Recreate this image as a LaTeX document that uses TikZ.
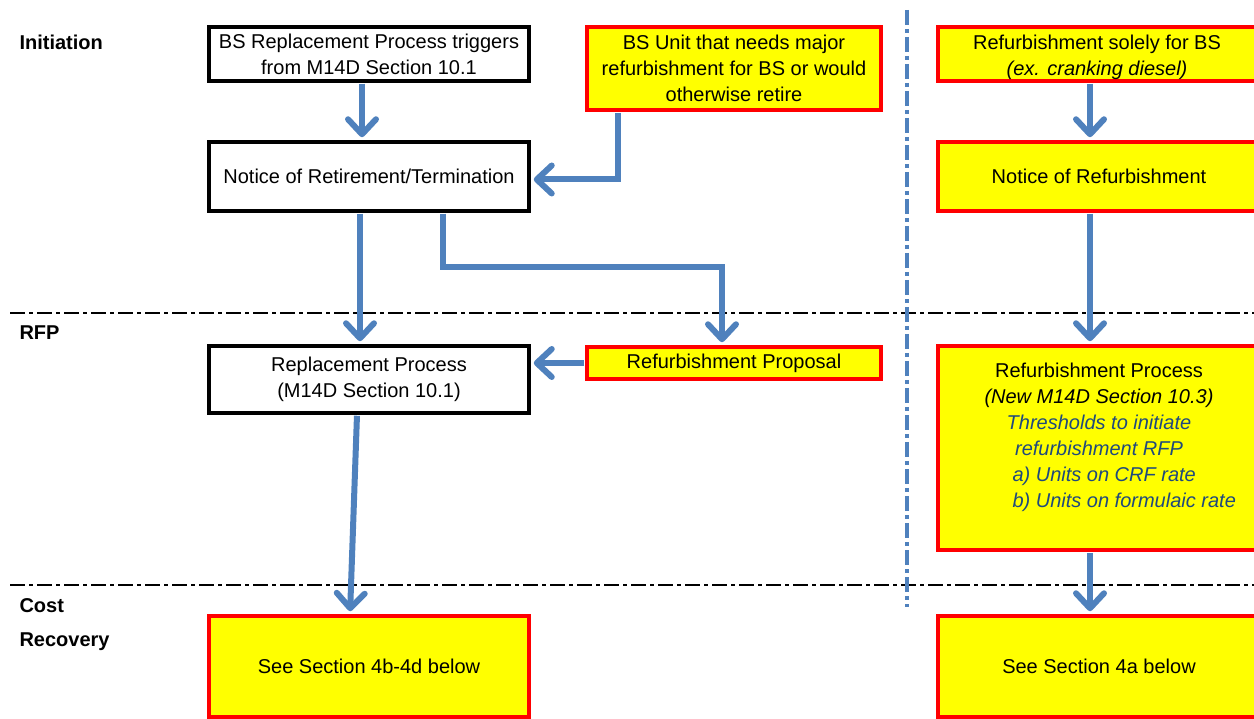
\documentclass[tikz,border=0pt]{standalone}
\usepackage{fontspec}
\setmainfont{Liberation Sans}
\usetikzlibrary{arrows.meta}

\definecolor{flowblue}{RGB}{79,129,189}
\definecolor{notered}{RGB}{255,0,0}
\definecolor{noteyellow}{RGB}{255,255,0}
\definecolor{hintblue}{RGB}{31,73,125}

\tikzset{
	plainbox/.style={draw=black, line width=3.5pt, fill=white, align=center, inner sep=2pt},
	notebox/.style={draw=notered, line width=3.5pt, fill=noteyellow, align=center, inner sep=2pt},
	phase/.style={anchor=base west, font=\fontsize{20}{26}\selectfont\bfseries},
	flow/.style={color=flowblue, line width=6pt, -{Straight Barb[length=15pt,width=28pt,round]}, shorten <=1pt, shorten >=3pt},
	divider/.style={line width=2pt, dash pattern=on 15pt off 4pt on 4pt off 4pt}
}

\begin{document}
\begin{tikzpicture}[x=1pt,y=-1pt,font=\fontsize{20}{26}\selectfont]
		\useasboundingbox (0,0) rectangle (1254,719);

		% phase dividers
		\draw[divider] (10,313) -- (1254,313);
		\draw[divider] (10,585) -- (1254,585);
		\draw[divider, draw=flowblue, line width=4pt] (907,10) -- (907,607);

		% phase names
		\node[phase] (initiation) at (16,50) {Initiation};
		\node[phase] (rfp) at (16,340) {RFP};
		\node[phase] (cost) at (16,612) {Cost};
		\node[phase] (recovery) at (16,646) {Recovery};

		% replacement side
		\node[plainbox, minimum width=320pt, minimum height=54pt] (trigger) at (369,54) {BS Replacement Process triggers\\from M14D Section 10.1};
		\node[notebox, minimum width=294pt, minimum height=83pt] (unit) at (734,68.5) {BS Unit that needs major\\refurbishment for BS or would\\otherwise retire};
		\node[plainbox, minimum width=320pt, minimum height=69pt] (retire) at (369,176.5) {Notice of Retirement/Termination};
		\node[plainbox, minimum width=320pt, minimum height=67pt] (replace) at (369,379.5) {Replacement Process\\(M14D Section 10.1)};
		\node[notebox, minimum width=294pt, minimum height=32pt] (proposal) at (734,363) {Refurbishment Proposal};
		\node[notebox, minimum width=320pt, minimum height=101pt] (sect4b) at (369,666.5) {See Section 4b-4d below};

		% refurbishment side
		\node[notebox, minimum width=322pt, minimum height=54pt] (solely) at (1099,54) {};
		\node[align=center, inner sep=0pt] (solelytext) at (1097,57) {Refurbishment solely for BS\\\textit{(ex. cranking diesel)}};
		\node[notebox, minimum width=322pt, minimum height=69pt] (notice) at (1099,176.5) {Notice of Refurbishment};
		\node[notebox, minimum width=322pt, minimum height=204pt] (refproc) at (1099,448) {Refurbishment Process\\
			\textit{(New M14D Section 10.3)}\\
			{\color{hintblue}\itshape Thresholds to initiate}\\
			{\color{hintblue}\itshape refurbishment RFP}\\
			\hspace*{54pt}\makebox[227pt][l]{\color{hintblue}\itshape a) Units on CRF rate}\\
			\hspace*{54pt}\makebox[227pt][l]{\color{hintblue}\itshape b) Units on formulaic rate}\\
			\mbox{}};
		\node[notebox, minimum width=322pt, minimum height=101pt] (sect4a) at (1099,666.5) {See Section 4a below};

		\coordinate (split) at (443,267);

		\path [flow] ([xshift=-7pt]trigger.south) edge ([xshift=-7pt]retire.north);
		\draw [flow] ([xshift=33pt]unit.south west) |- ([yshift=-3pt]retire.east);
		\path [flow] ([xshift=-9pt]retire.south) edge ([xshift=-9pt]replace.north);
		\draw [flow] (retire.south -| split) -- (split) -| ([xshift=-12pt]proposal.north);
		\path [flow] (proposal.west) edge (proposal.west -| replace.east);
		\path [flow] ([xshift=-12pt]replace.south) edge ([xshift=-19pt]sect4b.north);

		\path [flow] ([xshift=-9pt]solely.south) edge ([xshift=-9pt]notice.north);
		\path [flow] ([xshift=-9pt]notice.south) edge ([xshift=-9pt]refproc.north);
		\path [flow] ([xshift=-9pt]refproc.south) edge ([xshift=-9pt]sect4a.north);
	\end{tikzpicture}
\end{document}
